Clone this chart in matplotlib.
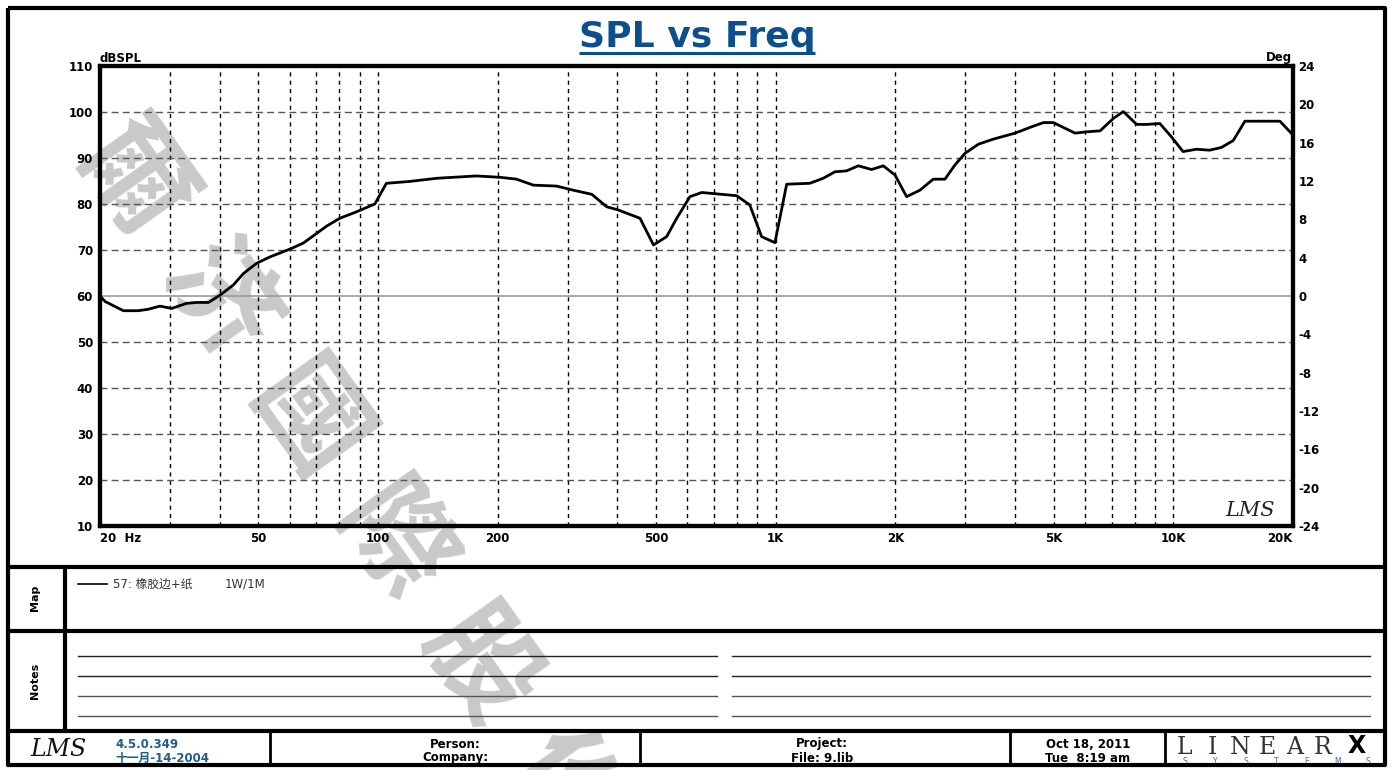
import matplotlib
matplotlib.use('Agg')
import matplotlib.pyplot as plt
from matplotlib.ticker import NullLocator

W, H = 1393, 770

# SPL curve (Hz, dB)
freq = [20, 20.6, 22.9, 24.9, 26.4, 28.3, 30.3, 33.0, 35.0, 37.5, 40.1, 43.3,
        45.9, 49.5, 53.5, 60.1, 64.9, 70.1, 74.3, 80.2, 88.3, 98.2, 105, 120,
        141, 177, 203, 223, 246, 281, 310, 345, 376, 402, 456, 493, 532, 564,
        609, 652, 711, 798, 861, 922, 996, 1066, 1219, 1318, 1410, 1508, 1614,
        1743, 1865, 1996, 2135, 2306, 2491, 2666, 2825, 2993, 3235, 3527, 4000,
        4408, 4715, 4994, 5663, 6059, 6544, 7068, 7487, 8089, 8570, 9249, 9895,
        10580, 11430, 12350, 13220, 14150, 15140, 18540, 20000]
spl = [60.0, 58.8, 56.8, 56.8, 57.1, 57.8, 57.3, 58.4, 58.6, 58.6, 60.2, 62.4,
       64.9, 67.1, 68.5, 70.2, 71.5, 73.6, 75.2, 76.9, 78.3, 80.0, 84.5, 84.9,
       85.6, 86.1, 85.8, 85.4, 84.1, 83.9, 83.0, 82.1, 79.4, 78.7, 76.9, 71.1,
       72.9, 76.9, 81.6, 82.5, 82.2, 81.8, 79.8, 72.9, 71.6, 84.3, 84.5, 85.6,
       87.0, 87.2, 88.3, 87.5, 88.3, 86.3, 81.6, 83.0, 85.4, 85.4, 88.5, 91.0,
       93.0, 94.1, 95.4, 96.8, 97.7, 97.7, 95.4, 95.7, 95.9, 98.6, 100.1, 97.3,
       97.3, 97.5, 94.6, 91.4, 91.9, 91.7, 92.3, 93.8, 98.0, 98.0, 95.0]

xticks = [20, 50, 100, 200, 500, 1000, 2000, 5000, 10000, 20000]
xlabels = ['20  Hz', '50', '100', '200', '500', '1K', '2K', '5K', '10K', '20K']
db_ticks = list(range(10, 111, 10))
deg_ticks = list(range(-24, 25, 4))

title = 'SPL vs Freq'
legend_name = '57: 橡胶边+纸'
legend_cond = '1W/1M'
version = '4.5.0.349'
build_date = '十一月-14-2004'
watermark = ['爾', '济', '國', '際', '股', '份']

plt.rcParams['font.family'] = ['DejaVu Sans', 'Noto Sans CJK SC']
blue = '#0d4f8e'

fig = plt.figure(figsize=(W / 100, H / 100), dpi=100)

# full-figure overlay in pixel coords for the frames and footer
ov = fig.add_axes([0, 0, 1, 1])
ov.set_xlim(0, W)
ov.set_ylim(H, 0)
ov.axis('off')
ov.set_zorder(0)


def px(x0, y0, x1, y1):
    return [x0 / W, 1 - y1 / H, (x1 - x0) / W, (y1 - y0) / H]


# watermark
for i, ch in enumerate(watermark):
    ov.text(132 + 86.6 * i, 180 + 122 * i, ch, fontsize=80, color='#c9c9c9',
            fontweight='bold', rotation=-54.5, ha='center', va='center',
            rotation_mode='anchor', family=['Noto Sans CJK SC'], zorder=0)

# main chart
ax = fig.add_axes(px(100, 66, 1293, 526))
ax.set_zorder(1)
ax.set_facecolor('none')
ax.set_xscale('log')
ax.set_xlim(20, 20000)
ax.set_ylim(10, 110)

for dec in [10, 100, 1000, 10000]:
    for m in range(1, 10):
        f = m * dec
        if 20 < f < 20000:
            ax.axvline(f, color='black', lw=1, ls=(0, (3, 3)), zorder=2)
for y in db_ticks[1:-1]:
    if y == 60:
        ax.axhline(y, color='#9a9a9a', lw=1.2, zorder=2)
    else:
        ax.axhline(y, color='#555555', lw=1, ls=(0, (5, 3)), zorder=2)

ax.plot(freq, spl, color='black', lw=2, zorder=5)

ax.xaxis.set_minor_locator(NullLocator())
ax.set_xticks(xticks, xlabels, fontweight='bold')
ax.set_yticks(db_ticks, [str(v) for v in db_ticks], fontweight='bold')
ax.tick_params(length=0, labelsize=8.5, pad=5)
ax.tick_params(axis='x', pad=4)
xl = ax.get_xticklabels()
xl[0].set_ha('left')
xl[-1].set_ha('right')
for s in ax.spines.values():
    s.set_linewidth(3)

ax2 = ax.twinx()
ax2.set_zorder(2)
ax2.set_ylim(-24, 24)
ax2.set_yticks(deg_ticks, [str(v) for v in deg_ticks], fontweight='bold')
ax2.tick_params(length=0, labelsize=8.5, pad=4)
for s in ax2.spines.values():
    s.set_linewidth(3)

ov.text(100, 58, 'dBSPL', fontsize=8.5, fontweight='bold', ha='left', va='center')
ov.text(1292, 58, 'Deg', fontsize=8.5, fontweight='bold', ha='right', va='center')
ov.text(1250, 510, 'LMS', fontsize=15, style='italic', family='DejaVu Serif',
        ha='center', va='center', color='#222222')

# title with underline
t = ov.text(697, 37, title, fontsize=26, fontweight='bold', color=blue,
            ha='center', va='center')
fig.canvas.draw()
bb = t.get_window_extent()
ov.plot([bb.x0, bb.x1], [53, 53], color=blue, lw=2.2, solid_capstyle='butt')

# frames
k = dict(color='black', zorder=4, solid_capstyle='butt')
ov.plot([8, 1385, 1385, 8, 8], [8, 8, 765, 765, 8], lw=3, **k)
for y in [567, 631, 731]:
    ov.plot([8, 1385], [y, y], lw=3, **k)
ov.plot([65, 65], [567, 731], lw=3, **k)
for x in [270, 640, 1010, 1165]:
    ov.plot([x, x], [731, 765], lw=2, **k)

ov.text(35, 598, 'Map', rotation=90, fontsize=8, fontweight='bold', ha='center', va='center')
ov.text(35, 681, 'Notes', rotation=90, fontsize=8, fontweight='bold', ha='center', va='center')

# map legend
ov.plot([78, 107], [584, 584], color='black', lw=1.2)
ov.text(113, 584, legend_name, fontsize=8.5, color='#333333', ha='left', va='center')
ov.text(225, 584, legend_cond, fontsize=8.5, color='#333333', ha='left', va='center')

# notes lines
for y, c in zip([656, 676, 696, 716], ['#222222', '#222222', '#555555', '#555555']):
    ov.plot([78, 717], [y, y], color=c, lw=1)
    ov.plot([732, 1370], [y, y], color=c, lw=1)

# footer
ov.text(58, 750, 'LMS', fontsize=17, style='italic', family='DejaVu Serif',
        ha='center', va='center', color='#111111')
ov.text(115, 744, version, fontsize=8.5, fontweight='bold', color='#1f5f8b', va='center')
ov.text(115, 758, build_date, fontsize=8.5, fontweight='bold', color='#1f5f8b', va='center')
ov.text(455, 744, 'Person:', fontsize=8.5, fontweight='bold', ha='center', va='center')
ov.text(455, 758, 'Company:', fontsize=8.5, fontweight='bold', ha='center', va='center')
ov.text(822, 744, 'Project:', fontsize=8.5, fontweight='bold', ha='center', va='center')
ov.text(822, 758, 'File: 9.lib', fontsize=8.5, fontweight='bold', ha='center', va='center')
ov.text(1088, 744, 'Oct 18, 2011', fontsize=8.5, fontweight='bold', ha='center', va='center')
ov.text(1088, 758, 'Tue  8:19 am', fontsize=8.5, fontweight='bold', ha='center', va='center')

for i, ch in enumerate('LINEAR'):
    ov.text(1185 + 27.5 * i, 747, ch, fontsize=17, family='DejaVu Serif',
            fontweight='light', color='#333333', ha='center', va='center')
ov.text(1357, 746, 'X', fontsize=17, fontweight='heavy', color='black',
        ha='center', va='center')
for i, ch in enumerate('SYSTEMS'):
    ov.text(1185 + 30.5 * i, 761, ch, fontsize=5.5, color='#3a6ea5',
            ha='center', va='center')

fig.savefig('out.png', dpi=100)
